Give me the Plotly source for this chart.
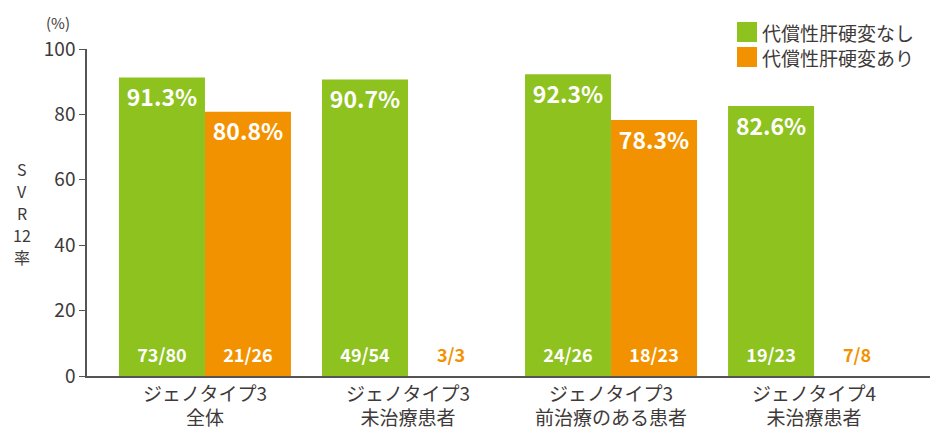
import plotly.graph_objects as go

# data
groups = ["ジェノタイプ3<br>全体", "ジェノタイプ3<br>未治療患者",
          "ジェノタイプ3<br>前治療のある患者", "ジェノタイプ4<br>未治療患者"]
no_cirr_name = "代償性肝硬変なし"
cirr_name = "代償性肝硬変あり"
no_cirr_pct = [91.3, 90.7, 92.3, 82.6]
cirr_pct = [80.8, None, 78.3, None]   # no bar drawn for 3/3 and 7/8
no_cirr_n = ["73/80", "49/54", "24/26", "19/23"]
cirr_n = ["21/26", "3/3", "18/23", "7/8"]
y_title = ["S", "V", "R", "12", "率"]

GREEN = "#8DC21F"
ORANGE = "#F39200"
TXT = "#3E3A39"
FONT = "Noto Sans CJK JP"

# page has an 8px body margin, so the plot box is placed 8px up/left
L, T, R, B = 79, 41, 21, 80
PW, PH = 943 - L - R, 448 - T - B

w = 0.4236
xi = list(range(len(groups)))
x_green = [i - w / 2 for i in xi]
x_orange = [i + w / 2 for i in xi]

fig = go.Figure()
fig.add_trace(go.Bar(x=x_green, y=no_cirr_pct, width=w, marker_color=GREEN,
                     marker_line_width=0, name=no_cirr_name, showlegend=False))
fig.add_trace(go.Bar(x=x_orange, y=cirr_pct, width=w, marker_color=ORANGE,
                     marker_line_width=0, name=cirr_name, showlegend=False))

# percent labels near top of bars
fig.add_trace(go.Scatter(
    x=x_green, y=[v - 7 for v in no_cirr_pct], mode="text",
    text=[f"{v}%" for v in no_cirr_pct], showlegend=False, hoverinfo="skip",
    textfont=dict(family=FONT, size=23, color="white", weight="bold")))
xo = [x for x, v in zip(x_orange, cirr_pct) if v is not None]
vo = [v for v in cirr_pct if v is not None]
fig.add_trace(go.Scatter(
    x=xo, y=[v - 7 for v in vo], mode="text",
    text=[f"{v}%" for v in vo], showlegend=False, hoverinfo="skip",
    textfont=dict(family=FONT, size=23, color="white", weight="bold")))

# n labels at bottom
fig.add_trace(go.Scatter(
    x=x_green, y=[5.8] * len(xi), mode="text", text=no_cirr_n,
    showlegend=False, hoverinfo="skip",
    textfont=dict(family=FONT, size=18, color="white", weight="bold")))
fig.add_trace(go.Scatter(
    x=x_orange, y=[5.8] * len(xi), mode="text", text=cirr_n,
    showlegend=False, hoverinfo="skip",
    textfont=dict(family=FONT, size=18, weight="bold",
                  color=["white" if v is not None else ORANGE for v in cirr_pct])))

fig.update_layout(
    width=943, height=448,
    margin=dict(l=L, r=R, t=T, b=B),
    plot_bgcolor="white", paper_bgcolor="white",
    barmode="overlay",
    font=dict(family=FONT, color=TXT),
    xaxis=dict(range=[-0.581, 3.571], tickvals=xi, ticktext=groups,
               showgrid=False, zeroline=False, showline=True,
               linecolor="#555555", linewidth=1.5, ticks="",
               tickfont=dict(size=19, color=TXT)),
    yaxis=dict(range=[0, 100], tickvals=[0, 20, 40, 60, 80, 100],
               showgrid=False, zeroline=False, showline=True,
               linecolor="#555555", linewidth=1.5, ticks="outside",
               ticklen=6, tickcolor="#555555",
               tickfont=dict(size=19, color=TXT)),
)

# y title, one character block per line
for k, s in enumerate(y_title):
    fig.add_annotation(text=s, xref="paper", yref="paper",
                       x=(22 - 8 - L) / PW, y=1 - (169 + 22 * k - 8 - T) / PH,
                       xanchor="center", yanchor="middle", showarrow=False,
                       font=dict(size=16, color=TXT))
fig.add_annotation(text="(%)", xref="paper", yref="paper",
                   x=(58 - 8 - L) / PW, y=1 - (22 - 8 - T) / PH,
                   xanchor="center", yanchor="middle",
                   showarrow=False, font=dict(size=15, color=TXT))

# legend drawn manually
for k, (nm, col) in enumerate([(no_cirr_name, GREEN), (cirr_name, ORANGE)]):
    top = 22 + 25 * k - 8
    fig.add_shape(type="rect", xref="paper", yref="paper",
                  x0=(737 - 8 - L) / PW, x1=(757 - 8 - L) / PW,
                  y0=1 - (top + 20 - T) / PH, y1=1 - (top - T) / PH,
                  fillcolor=col, line_width=0, layer="above")
    fig.add_annotation(text=nm, xref="paper", yref="paper",
                       x=(760 - 8 - L) / PW, y=1 - (top + 10 - T) / PH,
                       xanchor="left", yanchor="middle", showarrow=False,
                       font=dict(size=19, color=TXT))

fig.write_html("out.html")
